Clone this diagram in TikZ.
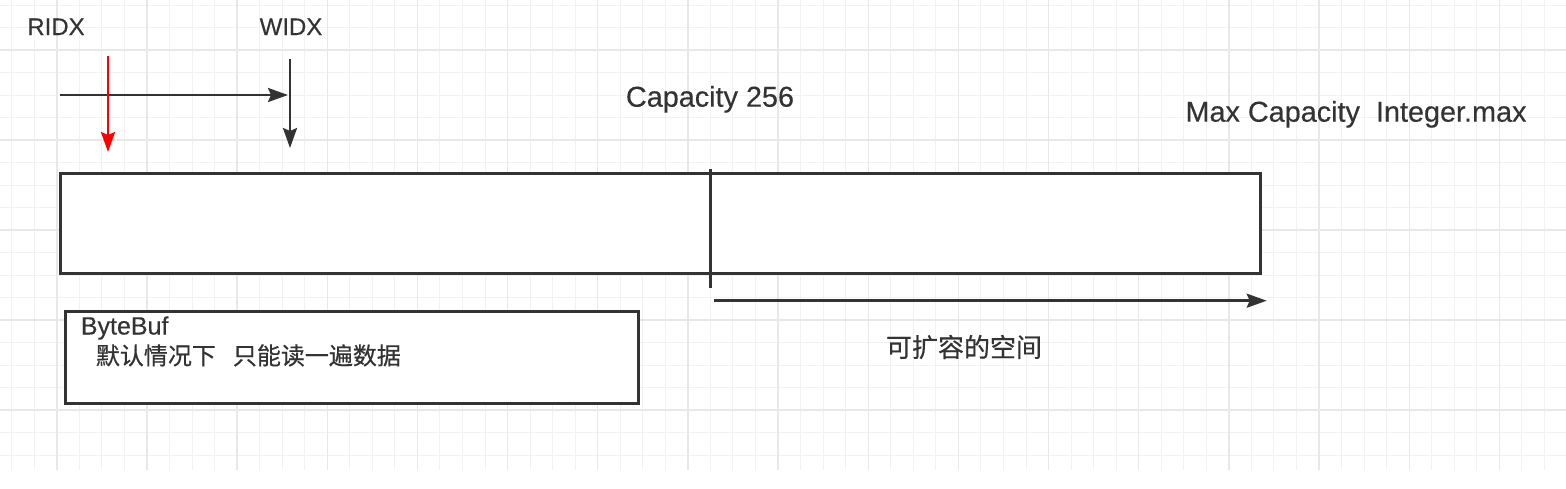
\documentclass[tikz,border=0pt]{standalone}
\usepackage{fontspec}
\setmainfont[FakeBold=0.3]{Liberation Sans}
\newfontfamily\cjk[FakeBold=0.5]{Noto Sans CJK SC}
\usepackage{tikz}
\usetikzlibrary{arrows.meta,positioning}
\definecolor{ink}{HTML}{333333}
\definecolor{gridfine}{HTML}{F2F2F2}
\definecolor{gridbold}{HTML}{E8E8E8}
\tikzset{
  idx text/.style={text=ink,inner sep=0pt,anchor=base,font=\fontsize{12}{14}\selectfont},
  cap text/.style={text=ink,inner sep=0pt,anchor=base,font=\fontsize{14.4}{16}\selectfont},
  pointer/.style={-{Stealth[length=10pt,width=7pt,inset=1.5pt]},line width=1.3pt,draw=ink},
  box/.style={draw=ink,line width=1.4pt,inner sep=0pt,anchor=north west,fill=white},
}

\begin{document}
\begin{tikzpicture}[x=0.5pt,y=-0.5pt]
    \useasboundingbox (0,0) rectangle (1566,488);
    % grid
    \begin{scope}[line width=0.5pt]
      \foreach \i in {0,...,68} \draw [gridfine] ({11.7+22.54*\i},0) -- ++(0,470);
      \foreach \j in {0,...,20} \draw [gridfine] (0,{5+22.5*\j}) -- ++(1566,0);
      \foreach \i in {0,...,16} \draw [gridbold,line width=0.7pt] ({56.8+90.16*\i},0) -- ++(0,470);
      \foreach \j in {0,...,4} \draw [gridbold,line width=0.7pt] (0,{50+90*\j}) -- ++(1566,0);
    \end{scope}
    % read and write index
    \node [idx text] (ridx) at (56,35) {RIDX};
    \node [idx text] (widx) at (291,35) {WIDX};
    \coordinate (ridx top) at (108,56);
    \coordinate (ridx tip) at (108,152);
    \coordinate (widx top) at (290,59);
    \coordinate (widx tip) at (290,148);
    \coordinate (move start) at (60,95);
    \coordinate (move end) at (288,95);
    \draw [pointer] (move start) -- (move end);
    \draw [pointer,draw=red] (ridx top) -- (ridx tip);
    \draw [pointer] (widx top) -- (widx tip);
    % buffer
    \node [box,minimum width=600pt,minimum height=50.3pt] (buffer) at (59,171.7) {};
    \coordinate (cap top) at (710.5,169.3);
    \coordinate (cap bottom) at (710.5,288.3);
    \draw [ink,line width=1.3pt] (cap top) -- (cap bottom);
    \node [cap text] (capacity) at (710,106.7) {Capacity 256};
    \node [cap text] (maxcap) at (1356,121.7) {Max Capacity\ \ Integer.max};
    \coordinate (grow start) at (714,300.7);
    \coordinate (grow end) at (1266.7,300.7);
    \draw [pointer] (grow start) -- (grow end);
    \node [text=ink,inner sep=0pt,font=\cjk\fontsize{13}{15}\selectfont] (grow) at (964,347) {可扩容的空间};
    % note
    \node [box,minimum width=286.5pt,minimum height=46.2pt] (bytebuf) at (64,310) {};
    \node [anchor=north west,align=left,text=ink,inner sep=0pt,font=\fontsize{12.5}{15}\selectfont]
      (bytebuf text) at ([shift={(16.5,6)}]bytebuf.north west)
      {ByteBuf\\\hspace*{7.5pt}{\cjk\fontsize{12}{15}\selectfont 默认情况下\hspace{8.5pt}只能读一遍数据}};
  \end{tikzpicture}
\end{document}
